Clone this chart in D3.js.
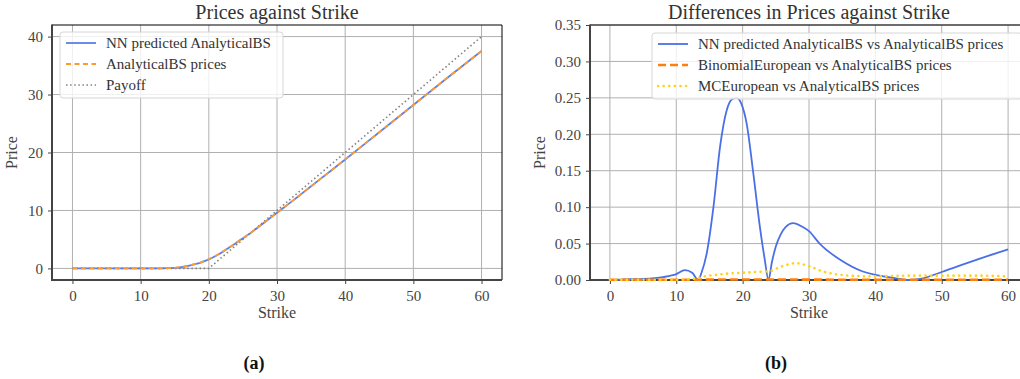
<!DOCTYPE html>
<html><head><meta charset="utf-8">
<script src="https://cdn.jsdelivr.net/npm/d3@7"></script>
<style>body{margin:0;background:#fff}svg{display:block}text{font-family:"Liberation Serif","Times New Roman",serif}</style>
</head><body><svg id="c" width="1020" height="379"></svg>
<script>
// ---- Data ----
const strikeA = [0,5,10,12,14,15,16,17,18,19,20,21,22,23,24,25,26,27,28,29,30,32,34,36,38,40,45,50,55,60];
const nnPrice = [0,0,0,0,0.04,0.1,0.24,0.45,0.75,1.1,1.55,2.15,2.85,3.6,4.4,5.2,6.0,6.9,7.8,8.7,9.6,11.4,13.25,15.1,16.95,18.8,23.5,28.2,32.9,37.5];
const bsPrice = [0,0,0,0,0.05,0.11,0.26,0.47,0.77,1.12,1.58,2.17,2.87,3.62,4.42,5.22,6.02,6.9,7.8,8.7,9.6,11.4,13.25,15.1,16.95,18.8,23.5,28.2,32.9,37.5];
const payoffStrike = [0,20,60];
const payoffValue = [0,0,40];

const strikeB = [0,3,5,8,10,11.3,12.4,13.3,13.8,14.6,15.6,16.6,17.6,18.4,19.1,19.8,20.6,21.6,22.6,23.3,23.9,24.4,25.0,25.7,26.5,27.6,29,30,31.6,35,38,40,42,45,47,50,55,60];
const nnDiff  = [0,0.001,0.0015,0.004,0.008,0.0135,0.01,0.0,0.01,0.037,0.1,0.183,0.233,0.248,0.25,0.242,0.215,0.147,0.073,0.03,0.0,0.024,0.046,0.062,0.073,0.078,0.073,0.067,0.05,0.026,0.012,0.007,0.004,0.0,0.002,0.011,0.027,0.042];
const strikeC = [0,5,10,13,14,16,18,20,22,24,26,28,30,32,34,36,40,45,50,55,60];
const binomDiff = [0.0003,0.0003,0.0003,0.0004,0.0005,0.0006,0.0006,0.0007,0.0007,0.0006,0.0006,0.0006,0.0005,0.0005,0.0004,0.0004,0.0004,0.0004,0.0004,0.0004,0.0004];
const mcDiff    = [0.0002,0.0002,0.0003,0.002,0.0045,0.007,0.009,0.01,0.011,0.012,0.019,0.023,0.019,0.012,0.008,0.006,0.005,0.006,0.006,0.006,0.005];

const xTicks = [0,10,20,30,40,50,60];
const yTicksA = [0,10,20,30,40];
const yTicksB = [0,0.05,0.10,0.15,0.20,0.25,0.30,0.35];

const svg = d3.select("#c");
const textCol = "#444";

function panel(o){
  const g = svg.append("g");
  const x = d3.scaleLinear().domain(o.xd).range([o.l,o.r]);
  const y = d3.scaleLinear().domain(o.yd).range([o.b,o.t]);
  g.append("g").selectAll("line").data(o.xt).join("line")
    .attr("x1",d=>x(d)).attr("x2",d=>x(d)).attr("y1",o.t).attr("y2",o.b)
    .attr("stroke","#b0b0b0").attr("stroke-width",1);
  g.append("g").selectAll("line").data(o.yt).join("line")
    .attr("x1",o.l).attr("x2",o.r).attr("y1",d=>y(d)).attr("y2",d=>y(d))
    .attr("stroke","#b0b0b0").attr("stroke-width",1);
  const ax = g.append("g").attr("transform",`translate(0,${o.b})`)
    .call(d3.axisBottom(x).tickValues(o.xt).tickSize(4).tickPadding(6).tickFormat(d3.format("d")));
  const ay = g.append("g").attr("transform",`translate(${o.l},0)`)
    .call(d3.axisLeft(y).tickValues(o.yt).tickSize(4).tickPadding(5).tickFormat(o.yf));
  [ax,ay].forEach(a=>{
    a.select(".domain").remove();
    a.selectAll("line").attr("stroke","#444");
    a.selectAll("text").attr("fill",textCol).style("font-size","15px").style("font-family",'"Liberation Serif",serif');
  });
  g.append("line").attr("x1",o.l).attr("x2",o.r).attr("y1",o.t).attr("y2",o.t).attr("stroke","#000").attr("stroke-width",1);
  g.append("line").attr("x1",o.r).attr("x2",o.r).attr("y1",o.t).attr("y2",o.b).attr("stroke","#000").attr("stroke-width",1);
  g.append("line").attr("x1",o.l).attr("x2",o.l).attr("y1",o.t-0.5).attr("y2",o.b+1).attr("stroke","#444").attr("stroke-width",2);
  g.append("line").attr("x1",o.l-1).attr("x2",o.r).attr("y1",o.b).attr("y2",o.b).attr("stroke","#444").attr("stroke-width",2);
  g.append("text").attr("x",(o.l+o.r)/2).attr("y",o.t-6).attr("text-anchor","middle")
    .attr("fill","#333").style("font-size","20px").text(o.title);
  g.append("text").attr("x",o.xlx).attr("y",o.b+38).attr("text-anchor","middle")
    .attr("fill",textCol).style("font-size","16px").text("Strike");
  g.append("text").attr("transform",`translate(${o.ylx},${(o.t+o.b)/2}) rotate(-90)`).attr("text-anchor","middle")
    .attr("fill",textCol).style("font-size","16px").text("Price");
  return {g,x,y};
}

const A = panel({l:52,r:502,t:25,b:280,xd:[-3,63],yd:[-2,42],xt:xTicks,yt:yTicksA,yf:d3.format("d"),
  title:"Prices against Strike",xlx:277,ylx:17});
const B = panel({l:590,r:1028,t:25,b:280,xd:[-3,63],yd:[0,0.35],xt:xTicks,yt:yTicksB,yf:d3.format(".2f"),
  title:"Differences in Prices against Strike",xlx:809,ylx:545});

function drawLine(P,xs,ys,stroke,w,dash,cap,curve){
  const pts = xs.map((k,i)=>[k,ys[i]]);
  P.g.append("path").datum(pts)
    .attr("d",d3.line().x(d=>P.x(d[0])).y(d=>P.y(d[1])).curve(curve||d3.curveMonotoneX))
    .attr("fill","none").attr("stroke",stroke).attr("stroke-width",w)
    .attr("stroke-dasharray",dash||null).attr("stroke-linecap",cap||"butt");
}
drawLine(A,payoffStrike,payoffValue,"#808080",1.6,"1.5,2.6","butt",d3.curveLinear);
drawLine(A,strikeA,nnPrice,"#5b7fe8",1.8);
drawLine(A,strikeA,bsPrice,"#ff9a2e",1.8,"5,3.5");
drawLine(B,strikeB,nnDiff,"#4a70e6",1.8);
drawLine(B,strikeC,binomDiff,"#ff7f0e",2.6,"8,4");
drawLine(B,strikeC,mcDiff,"#ffd21f",2.6,"0.1,5.5","round");

function legend(x0,y0,w,items){
  const g = svg.append("g");
  g.append("rect").attr("x",x0).attr("y",y0).attr("width",w).attr("height",66).attr("rx",3)
    .attr("fill","#fff").attr("fill-opacity",0.8).attr("stroke","#d6d6d6").attr("stroke-width",1);
  items.forEach((it,i)=>{
    const yy = y0+11+i*21;
    g.append("line").attr("x1",x0+6).attr("x2",x0+36).attr("y1",yy).attr("y2",yy)
      .attr("stroke",it.c).attr("stroke-width",it.w).attr("stroke-dasharray",it.d||null).attr("stroke-linecap",it.cap||"butt");
    g.append("text").attr("x",x0+46).attr("y",yy+5).attr("fill","#333").style("font-size","15px").text(it.t);
  });
}
legend(60,32,223,[
  {t:"NN predicted AnalyticalBS",c:"#5b7fe8",w:1.8},
  {t:"AnalyticalBS prices",c:"#ff9a2e",w:1.8,d:"5,3.5"},
  {t:"Payoff",c:"#808080",w:1.6,d:"1.5,2.6"}]);
legend(652,33,370,[
  {t:"NN predicted AnalyticalBS vs AnalyticalBS prices",c:"#4a70e6",w:1.8},
  {t:"BinomialEuropean vs AnalyticalBS prices",c:"#ff7f0e",w:2.6,d:"8,4"},
  {t:"MCEuropean vs AnalyticalBS prices",c:"#ffd21f",w:2.6,d:"0.1,5.5",cap:"round"}]);

svg.append("text").attr("x",254).attr("y",369).attr("text-anchor","middle").attr("fill","#111")
  .style("font-size","18px").style("font-weight","bold").text("(a)");
svg.append("text").attr("x",776).attr("y",369).attr("text-anchor","middle").attr("fill","#111")
  .style("font-size","18px").style("font-weight","bold").text("(b)");
</script></body></html>
